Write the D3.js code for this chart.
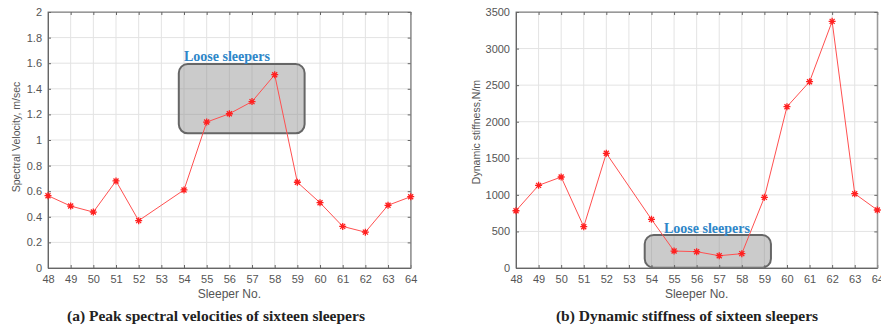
<!DOCTYPE html>
<html><head><meta charset="utf-8">
<script src="https://cdn.jsdelivr.net/npm/d3@7"></script>
<style>body{margin:0;background:#fff}svg{display:block}</style>
</head><body>
<script>
const sleepers = [48,49,50,51,52,54,55,56,57,58,59,60,61,62,63,64];
const velocity = [0.565,0.484,0.437,0.68,0.37,0.61,1.14,1.205,1.30,1.51,0.67,0.51,0.325,0.28,0.49,0.557];
const stiffness = [783,1130,1244,565,1568,665,232,223,168,196,966,2205,2547,3372,1016,793];
const xTicks = [48,49,50,51,52,53,54,55,56,57,58,59,60,61,62,63,64];
const velTicks = [0,0.2,0.4,0.6,0.8,1,1.2,1.4,1.6,1.8,2];
const stiffTicks = [0,500,1000,1500,2000,2500,3000,3500];
const looseA = {x0:53.77, x1:59.32, y0:1.052, y1:1.594};
const looseB = {x0:53.7, x1:59.29, y0:3, y1:451};

const svg = d3.select("body").append("svg").attr("width",881).attr("height",325);

function panel(o){
  const g = svg.append("g");
  const x = d3.scaleLinear().domain([48,64]).range([o.left,o.right]);
  const y = d3.scaleLinear().domain(o.ydom).range([268,12]);
  g.selectAll(".gx").data(xTicks).join("line").attr("x1",d=>x(d)).attr("x2",d=>x(d))
    .attr("y1",12).attr("y2",268).attr("stroke","#e3e3e3").attr("stroke-width",1);
  g.selectAll(".gy").data(o.yticks).join("line").attr("y1",d=>y(d)).attr("y2",d=>y(d))
    .attr("x1",o.left).attr("x2",o.right).attr("stroke","#e3e3e3").attr("stroke-width",1);
  const b=o.box;
  g.append("rect").attr("x",x(b.x0)).attr("y",y(b.y1)).attr("width",x(b.x1)-x(b.x0)).attr("height",y(b.y0)-y(b.y1))
    .attr("rx",9).attr("ry",9).attr("fill","rgba(140,140,140,0.45)").attr("stroke","#666").attr("stroke-width",2);
  g.append("rect").attr("x",o.left).attr("y",12).attr("width",o.right-o.left).attr("height",256)
    .attr("fill","none").attr("stroke","#8a8a8a").attr("stroke-width",1);
  const xa = g.append("g").attr("transform","translate(0,268)")
    .call(d3.axisBottom(x).tickValues(xTicks).tickFormat(d3.format("d")).tickSizeInner(-3).tickSizeOuter(0).tickPadding(7));
  const xt = g.append("g").attr("transform","translate(0,12)")
    .call(d3.axisTop(x).tickValues(xTicks).tickFormat("").tickSizeInner(-3).tickSizeOuter(0));
  const ya = g.append("g").attr("transform",`translate(${o.left},0)`)
    .call(d3.axisLeft(y).tickValues(o.yticks).tickFormat(o.fmt).tickSizeInner(-3).tickSizeOuter(0).tickPadding(6));
  const yr = g.append("g").attr("transform",`translate(${o.right},0)`)
    .call(d3.axisRight(y).tickValues(o.yticks).tickFormat("").tickSizeInner(-3).tickSizeOuter(0));
  [xa,xt,ya,yr].forEach(a=>{a.select(".domain").attr("stroke","#666");a.selectAll("line").attr("stroke","#666");
    a.selectAll("text").attr("fill","#555").style("font-family","Liberation Sans, Arial, sans-serif").style("font-size","11px");});
  xt.select(".domain").attr("stroke","#999"); yr.select(".domain").attr("stroke","#999");
  const data = sleepers.map((s,i)=>[s,o.vals[i]]);
  g.append("path").datum(data).attr("fill","none").attr("stroke","#ff5050").attr("stroke-width",1)
    .attr("d",d3.line().x(d=>x(d[0])).y(d=>y(d[1])));
  const star = "M-3.5,0H3.5M0,-3.5V3.5M-2.5,-2.5L2.5,2.5M-2.5,2.5L2.5,-2.5";
  g.selectAll(".m").data(data).join("path").attr("d",star)
    .attr("transform",d=>`translate(${x(d[0])},${y(d[1])})`).attr("stroke","#ff2020").attr("stroke-width",1.3).attr("fill","none");
  g.append("text").attr("x",o.labX).attr("y",o.labY).attr("text-anchor","middle")
    .style("font-family","Liberation Serif, Times New Roman, serif").style("font-weight","bold").style("font-size","14px")
    .attr("fill","#2e86c8").text("Loose sleepers");
  g.append("text").attr("x",(o.left+o.right)/2).attr("y",298).attr("text-anchor","middle")
    .style("font-family","Liberation Sans, Arial, sans-serif").style("font-size","12px").attr("fill","#555").text("Sleeper No.");
  g.append("text").attr("transform",`translate(${o.ylabX},${o.ylabY}) rotate(-90)`).attr("text-anchor","middle")
    .style("font-family","Liberation Sans, Arial, sans-serif").style("font-size","10.5px").attr("fill","#555").text(o.ylabel);
  g.append("text").attr("x",o.capX).attr("y",321).attr("text-anchor","middle")
    .style("font-family","Liberation Serif, Times New Roman, serif").style("font-weight","bold").style("font-size","15.5px")
    .attr("fill","#222").text(o.caption);
}

panel({left:48,right:410.7,ydom:[0,2],yticks:velTicks,fmt:d3.format("~g"),vals:velocity,box:looseA,
  labX:227,labY:61,ylabX:20,ylabY:137,ylabel:"Spectral Velocity, m/sec",capX:216,caption:"(a) Peak spectral velocities of sixteen sleepers"});
panel({left:516,right:877.3,ydom:[0,3500],yticks:stiffTicks,fmt:d3.format("d"),vals:stiffness,box:looseB,
  labX:707,labY:233,ylabX:480,ylabY:132,ylabel:"Dynamic stiffness,N/m",capX:687,caption:"(b) Dynamic stiffness of sixteen sleepers"});
</script>
</body></html>
